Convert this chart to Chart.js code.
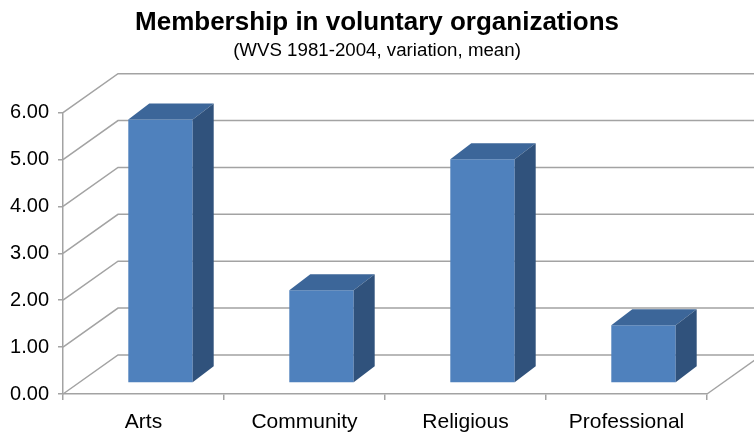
<!DOCTYPE html>
<html>
<head>
<meta charset="utf-8">
<title>Membership in voluntary organizations</title>
<script src="https://cdn.jsdelivr.net/npm/chart.js@4.4.1/dist/chart.umd.min.js"></script>
<style>
    html, body { margin: 0; padding: 0; background: #fff; }
    canvas { display: block; }
</style>
</head>
<body>
<canvas id="membershipChart" width="754" height="432"></canvas>
<script>
const categories = ['Arts', 'Community', 'Religious', 'Professional'];
const meanValues = [5.62, 1.98, 4.77, 1.23];
const yTicks = [0, 1, 2, 3, 4, 5, 6];

// depth of the box (walls) and of the bars, in px
const WALL_DX = 55, WALL_DY = -39;
const BAR_SHIFT_X = 17, BAR_SHIFT_Y = -11;
const BAR_DX = 21, BAR_DY = -16;
const GRID_COLOR = '#a3a3a3';

const threeD = {
    id: 'threeD',
    beforeDatasetsDraw(chart) {
        const { ctx, chartArea: a, scales: { y } } = chart;
        ctx.save();
        ctx.strokeStyle = GRID_COLOR;
        ctx.lineWidth = 1.5;
        yTicks.forEach(v => {
            const py = y.getPixelForValue(v);
            ctx.beginPath();
            ctx.moveTo(a.left, py);
            ctx.lineTo(a.left + WALL_DX, py + WALL_DY);
            ctx.lineTo(chart.width + 20, py + WALL_DY);
            ctx.stroke();
        });
        // right edge of the floor
        ctx.beginPath();
        ctx.moveTo(a.right, a.bottom);
        ctx.lineTo(a.right + WALL_DX, a.bottom + WALL_DY);
        ctx.stroke();
        ctx.restore();

        // front faces sit in the middle of the box
        ctx.save();
        ctx.translate(BAR_SHIFT_X, BAR_SHIFT_Y);
    },
    afterDatasetsDraw(chart) {
        const { ctx } = chart;
        ctx.restore();
        const meta = chart.getDatasetMeta(0);
        meta.data.forEach(bar => {
            const { x, y, base, width } = bar.getProps(['x', 'y', 'base', 'width'], true);
            const l = x - width / 2 + BAR_SHIFT_X;
            const r = x + width / 2 + BAR_SHIFT_X;
            const t = y + BAR_SHIFT_Y;
            const b = base + BAR_SHIFT_Y;
            // top face
            ctx.fillStyle = '#3c6699';
            ctx.beginPath();
            ctx.moveTo(l, t);
            ctx.lineTo(r, t);
            ctx.lineTo(r + BAR_DX, t + BAR_DY);
            ctx.lineTo(l + BAR_DX, t + BAR_DY);
            ctx.closePath();
            ctx.fill();
            // side face
            ctx.fillStyle = '#30527c';
            ctx.beginPath();
            ctx.moveTo(r, t);
            ctx.lineTo(r + BAR_DX, t + BAR_DY);
            ctx.lineTo(r + BAR_DX, b + BAR_DY);
            ctx.lineTo(r, b);
            ctx.closePath();
            ctx.fill();
        });
    }
};

Chart.defaults.font.family = '"Liberation Sans", Arial, sans-serif';
Chart.defaults.color = '#000';

const ctx = document.getElementById('membershipChart').getContext('2d');
new Chart(ctx, {
    type: 'bar',
    data: {
        labels: categories,
        datasets: [{
            label: 'Membership',
            data: meanValues,
            backgroundColor: '#4f81bd',
            borderWidth: 0,
            barPercentage: 0.4,
            categoryPercentage: 1
        }]
    },
    options: {
        responsive: false,
        animation: false,
        layout: {
            padding: 0
        },
        plugins: {
            legend: { display: false },
            tooltip: { enabled: false },
            title: {
                display: true,
                text: 'Membership in voluntary organizations',
                color: '#000',
                font: { size: 26, weight: 'bold' },
                padding: { top: 7, bottom: 0 }
            },
            subtitle: {
                display: true,
                text: '(WVS 1981-2004, variation, mean)',
                color: '#000',
                font: { size: 18.7 },
                padding: { top: 1, bottom: 51 }
            }
        },
        scales: {
            x: {
                grid: {
                    drawOnChartArea: false,
                    offset: true,
                    tickLength: 6,
                    color: GRID_COLOR,
                    lineWidth: 1.5
                },
                border: { color: GRID_COLOR, width: 1.5 },
                ticks: { font: { size: 21 }, color: '#000', padding: 10 },
                afterFit: s => { s.height = 38; }
            },
            y: {
                min: 0,
                max: 6,
                ticks: {
                    stepSize: 1,
                    font: { size: 20 },
                    color: '#000',
                    padding: 9,
                    callback: v => v.toFixed(2)
                },
                grid: {
                    drawOnChartArea: false,
                    tickLength: 5,
                    color: GRID_COLOR,
                    lineWidth: 1.5
                },
                border: { color: GRID_COLOR, width: 1.5 },
                afterFit: s => { s.width = 63; }
            },
            // empty right-hand space where the box recedes
            depth: {
                type: 'linear',
                position: 'right',
                min: 0,
                max: 6,
                ticks: { display: false },
                grid: { display: false },
                border: { display: false },
                afterFit: s => { s.width = 47; }
            }
        }
    },
    plugins: [threeD]
});
</script>
</body>
</html>
